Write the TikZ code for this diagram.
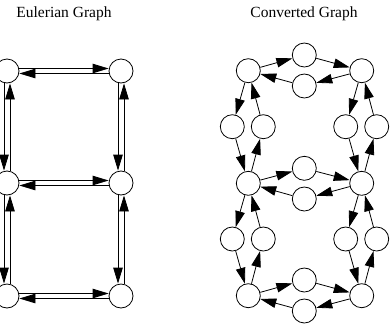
\documentclass[tikz,border=0pt]{standalone}
\usepackage{fontspec}
\setmainfont{Liberation Serif}
\usetikzlibrary{arrows.meta}

\begin{document}
\begin{tikzpicture}[x=1pt,y=-1pt,
  vtx/.style={circle,draw,fill=white,line width=0.8pt,minimum size=24pt,inner sep=0pt},
  arc/.style={line width=0.8pt,-{Triangle[length=16pt,width=9.5pt]}},
  title/.style={font=\fontsize{15.5}{18}\selectfont}]
  \useasboundingbox (0,0) rectangle (390,327);
  % titles
  \node[title] (te) at (64,14) {Eulerian Graph};
  \node[title] (tc) at (304,14) {Converted Graph};
  % Eulerian graph
  \node[vtx] (e1) at (7,71) {};
  \node[vtx] (e2) at (121,71) {};
  \node[vtx] (e3) at (7,183) {};
  \node[vtx] (e4) at (121,183) {};
  \node[vtx] (e5) at (7,296) {};
  \node[vtx] (e6) at (121,296) {};
  \foreach \a/\b in {e1/e2,e3/e4,e5/e6} {
    \draw[arc,transform canvas={yshift=2.5pt}] (\a) -- (\b);
    \draw[arc,transform canvas={yshift=-2.5pt}] (\b) -- (\a);
  }
  \foreach \a/\b in {e1/e3,e3/e5,e2/e4,e4/e6} {
    \draw[arc,transform canvas={xshift=-3pt}] (\a) -- (\b);
    \draw[arc,transform canvas={xshift=3pt}] (\b) -- (\a);
  }
  % converted graph
  \node[vtx] (tl) at (248.3,70.7) {};
  \node[vtx] (tu) at (304.3,55) {};
  \node[vtx] (td) at (304.3,86) {};
  \node[vtx] (tr) at (361.7,70.7) {};
  \node[vtx] (lo1) at (232.3,126.7) {};
  \node[vtx] (li1) at (263.3,126.7) {};
  \node[vtx] (ri1) at (345.7,126.7) {};
  \node[vtx] (ro1) at (376.7,126.7) {};
  \node[vtx] (ml) at (248.3,183.3) {};
  \node[vtx] (mu) at (304.3,168.3) {};
  \node[vtx] (md) at (304.3,199) {};
  \node[vtx] (mr) at (361.7,183.3) {};
  \node[vtx] (lo2) at (232.3,239) {};
  \node[vtx] (li2) at (263.3,239) {};
  \node[vtx] (ri2) at (345.7,239) {};
  \node[vtx] (ro2) at (376.7,239) {};
  \node[vtx] (bl) at (248.3,295.7) {};
  \node[vtx] (bu) at (304.3,280) {};
  \node[vtx] (bd) at (304.3,311) {};
  \node[vtx] (br) at (361.7,295.7) {};
  \foreach \a/\b in {tl/tu,tu/tr,tr/td,td/tl,
                     tl/lo1,lo1/ml,ml/li1,li1/tl,
                     tr/ri1,ri1/mr,mr/ro1,ro1/tr,
                     ml/mu,mu/mr,mr/md,md/ml,
                     ml/lo2,lo2/bl,bl/li2,li2/ml,
                     mr/ri2,ri2/br,br/ro2,ro2/mr,
                     bl/bu,bu/br,br/bd,bd/bl}
    \draw[arc] (\a) -- (\b);
\end{tikzpicture}
\end{document}
